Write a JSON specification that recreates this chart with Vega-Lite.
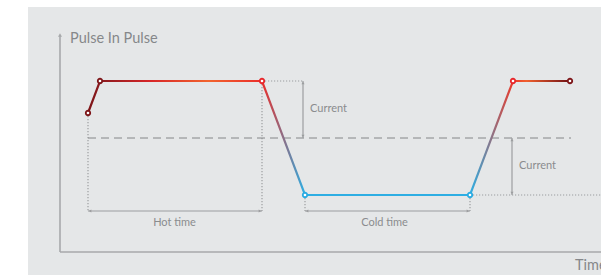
{
  "$schema": "https://vega.github.io/schema/vega-lite/v6.json",
  "width": 612,
  "height": 273,
  "autosize": "none",
  "padding": {"left": 28, "top": 7, "right": 0, "bottom": 0},
  "background": "white",
  "config": {"view": {"fill": "#e5e7e8", "stroke": null}},
  "datasets": {
    "pulse": [
      {"t": 2.8, "c": 13.9, "phase": "edge"},
      {"t": 4.0, "c": 17.1, "phase": "edge"},
      {"t": 20.2, "c": 17.1, "phase": "hot"},
      {"t": 24.5, "c": 5.7, "phase": "cold"},
      {"t": 41.0, "c": 5.7, "phase": "cold"},
      {"t": 45.3, "c": 17.1, "phase": "hot"},
      {"t": 51.0, "c": 17.1, "phase": "edge"}
    ],
    "axes": [
      {"t": 0, "c": 0, "t2": 0, "c2": 21.6},
      {"t": 0, "c": 0, "t2": 60, "c2": 0}
    ],
    "dotted": [
      {"t": 2.8, "c": 13.9, "t2": 2.8, "c2": 4.1},
      {"t": 20.2, "c": 17.1, "t2": 20.2, "c2": 4.1},
      {"t": 20.2, "c": 17.1, "t2": 24.3, "c2": 17.1},
      {"t": 24.5, "c": 5.7, "t2": 24.5, "c2": 4.1},
      {"t": 41.0, "c": 5.7, "t2": 41.0, "c2": 4.1},
      {"t": 41.0, "c": 5.7, "t2": 60, "c2": 5.7}
    ],
    "dashed": [
      {"t": 2.8, "c": 11.4, "t2": 51.1, "c2": 11.4}
    ],
    "measures": [
      {"t": 2.8, "c": 4.1, "t2": 20.2, "c2": 4.1},
      {"t": 24.5, "c": 4.1, "t2": 41.0, "c2": 4.1},
      {"t": 24.3, "c": 17.1, "t2": 24.3, "c2": 11.4},
      {"t": 45.2, "c": 11.4, "t2": 45.2, "c2": 5.7}
    ],
    "arrowheads": [
      {"t": 3.0, "c": 4.1, "dir": "left"},
      {"t": 20.0, "c": 4.1, "dir": "right"},
      {"t": 24.7, "c": 4.1, "dir": "left"},
      {"t": 40.8, "c": 4.1, "dir": "right"},
      {"t": 24.3, "c": 16.9, "dir": "up"},
      {"t": 24.3, "c": 11.6, "dir": "down"},
      {"t": 45.2, "c": 11.2, "dir": "up"},
      {"t": 45.2, "c": 5.9, "dir": "down"}
    ],
    "axisheads": [
      {"t": 0, "c": 21.7, "dir": "up"}
    ],
    "labels": [
      {"t": 1.0, "c": 20.87, "text": "Pulse In Pulse", "kind": "title", "align": "left"},
      {"t": 51.5, "c": -1.8, "text": "Time", "kind": "title", "align": "left"},
      {"t": 25.0, "c": 14.0, "text": "Current", "kind": "note", "align": "left"},
      {"t": 45.9, "c": 8.3, "text": "Current", "kind": "note", "align": "left"},
      {"t": 11.45, "c": 2.6, "text": "Hot time", "kind": "note", "align": "center"},
      {"t": 32.45, "c": 2.6, "text": "Cold time", "kind": "note", "align": "center"}
    ]
  },
  "encoding": {
    "x": {"field": "t", "type": "quantitative", "axis": null, "scale": {"domain": [-3.2, 58], "nice": false, "zero": false}},
    "y": {"field": "c", "type": "quantitative", "axis": null, "scale": {"domain": [-2.8, 24.5], "nice": false, "zero": false}}
  },
  "layer": [
    {
      "data": {"name": "axes"},
      "mark": {"type": "rule", "color": "#a7a9ab", "strokeWidth": 1.6},
      "encoding": {"x2": {"field": "t2"}, "y2": {"field": "c2"}}
    },
    {
      "data": {"name": "axisheads"},
      "mark": {"type": "point", "filled": true, "color": "#a7a9ab", "size": 16, "opacity": 1, "shape": "triangle-up"}
    },
    {
      "data": {"name": "dotted"},
      "mark": {"type": "rule", "color": "#9c9ea0", "strokeWidth": 1.2, "strokeDash": [1.2, 1.8]},
      "encoding": {"x2": {"field": "t2"}, "y2": {"field": "c2"}}
    },
    {
      "data": {"name": "dashed"},
      "mark": {"type": "rule", "color": "#848688", "strokeWidth": 1, "strokeDash": [8, 5]},
      "encoding": {"x2": {"field": "t2"}, "y2": {"field": "c2"}}
    },
    {
      "data": {"name": "measures"},
      "mark": {"type": "rule", "color": "#9c9ea0", "strokeWidth": 1.2},
      "encoding": {"x2": {"field": "t2"}, "y2": {"field": "c2"}}
    },
    {
      "data": {"name": "arrowheads"},
      "mark": {"type": "point", "filled": true, "color": "#9c9ea0", "size": 10, "opacity": 1},
      "encoding": {
        "shape": {"field": "dir", "type": "nominal", "legend": null,
          "scale": {"domain": ["up", "down", "left", "right"], "range": ["triangle-up", "triangle-down", "triangle-left", "triangle-right"]}}
      }
    },
    {
      "data": {"name": "pulse"},
      "mark": {
        "type": "line",
        "strokeWidth": 2.2,
        "color": {
          "gradient": "linear", "x1": 0, "x2": 1, "y1": 0, "y2": 0,
          "stops": [
            {"offset": 0, "color": "#7d1518"},
            {"offset": 0.025, "color": "#8b1a1e"},
            {"offset": 0.13, "color": "#d82628"},
            {"offset": 0.25, "color": "#f2642e"},
            {"offset": 0.361, "color": "#ea2e2a"},
            {"offset": 0.45, "color": "#2eaee3"},
            {"offset": 0.793, "color": "#2eaee3"},
            {"offset": 0.882, "color": "#ec3a2a"},
            {"offset": 0.91, "color": "#f0602e"},
            {"offset": 1, "color": "#6e1014"}
          ]
        }
      },
      "encoding": {"order": {"field": "t", "type": "quantitative"}}
    },
    {
      "data": {"name": "pulse"},
      "mark": {"type": "point", "filled": false, "fill": "white", "fillOpacity": 1, "strokeWidth": 1.8, "size": 20, "opacity": 1},
      "encoding": {
        "stroke": {"field": "phase", "type": "nominal", "legend": null,
          "scale": {"domain": ["edge", "hot", "cold"], "range": ["#7d1518", "#e8262a", "#29abe2"]}}
      }
    },
    {
      "data": {"name": "labels"},
      "transform": [{"filter": "datum.kind === 'title'"}],
      "mark": {"type": "text", "font": "Lato", "fontSize": 14.5, "color": "#85878a", "align": "left", "baseline": "alphabetic"},
      "encoding": {"text": {"field": "text"}}
    },
    {
      "data": {"name": "labels"},
      "transform": [{"filter": "datum.kind === 'note' && datum.align === 'left'"}],
      "mark": {"type": "text", "font": "Lato", "fontSize": 11, "color": "#8a8c8e", "align": "left", "baseline": "alphabetic"},
      "encoding": {"text": {"field": "text"}}
    },
    {
      "data": {"name": "labels"},
      "transform": [{"filter": "datum.kind === 'note' && datum.align === 'center'"}],
      "mark": {"type": "text", "font": "Lato", "fontSize": 11, "color": "#8a8c8e", "align": "center", "baseline": "alphabetic"},
      "encoding": {"text": {"field": "text"}}
    }
  ]
}
